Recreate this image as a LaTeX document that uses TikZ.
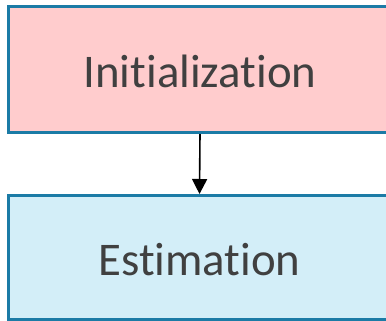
\documentclass[tikz,border=0pt]{standalone}
\usepackage{fontspec}
\setmainfont{Carlito}[Ligatures={NoCommon,NoContextual}]
\usetikzlibrary{arrows.meta}
\definecolor{edgeblue}{HTML}{1B7BA6}
\definecolor{initfill}{HTML}{FFCCCD}
\definecolor{estfill}{HTML}{D3EEF8}
\definecolor{labelgray}{HTML}{404040}
\tikzset{
  stage/.style={draw=edgeblue, line width=3bp, minimum width=382bp,
    inner sep=0pt, text=labelgray, font=\fontsize{47}{47}\selectfont,
    text height=36bp, text depth=0pt},
  flow/.style={line width=1.6bp, -{Triangle[length=15bp,width=15bp]}}
}
\begin{document}
\begin{tikzpicture}[x=1bp,y=-1bp]
  \useasboundingbox (0,0) rectangle (386,321);
  \clip (0,0) rectangle (386,321);
  \node[stage, fill=initfill, minimum height=126bp] (init) at (200,69.5) {Initialization};
  \node[stage, fill=estfill, minimum height=124bp] (est) at (199.5,257.5) {Estimation};
  \draw[flow] (init.south) -- (est.north);
\end{tikzpicture}
\end{document}
